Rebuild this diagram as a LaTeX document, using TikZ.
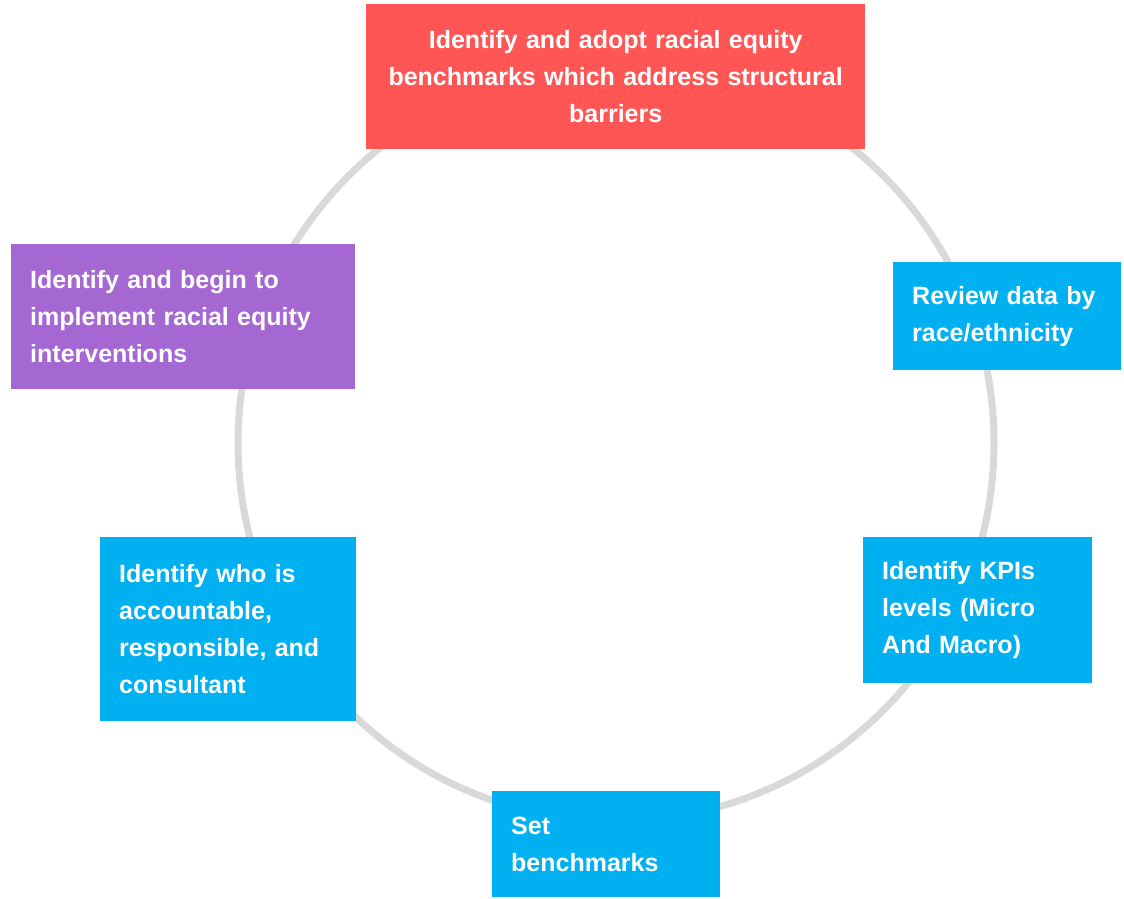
\documentclass[tikz,border=0pt]{standalone}
\usepackage{fontspec}
\setmainfont{Liberation Sans}
\usetikzlibrary{positioning}

\definecolor{redbox}{RGB}{255,85,85}
\definecolor{bluebox}{RGB}{0,176,240}
\definecolor{purplebox}{RGB}{165,103,210}
\definecolor{ringgray}{RGB}{217,217,217}

\begin{document}
\begin{tikzpicture}[x=1pt, y=-1pt,
    stepbox/.style={anchor=north west, inner xsep=19pt, inner ysep=0pt,
      text=white, align=left, font=\fontsize{25}{37}\selectfont\bfseries}]
 	\useasboundingbox (0,0) rectangle (1124,898);

 	% Ring
 	\draw[ringgray, line width=7pt] (616,443) circle [radius=378pt];

 	% Steps
 	\node[stepbox, fill=redbox, align=center, text width=461pt, minimum height=145pt] (benchmarks) at (366,4)
 	 	{Identify and adopt racial equity\\benchmarks which address structural\\barriers};
 	\node[stepbox, fill=bluebox, text width=190pt, minimum height=108pt] (review) at (893,262)
 	 	{Review data by\\race/ethnicity};
 	\node[stepbox, fill=bluebox, text width=191pt, minimum height=146pt] (kpis) at (863,537)
 	 	{Identify KPIs\\levels (Micro\\And Macro)};
 	\node[stepbox, fill=bluebox, text width=190pt, minimum height=106pt] (setbench) at (492,791)
 	 	{Set\\benchmarks};
 	\node[stepbox, fill=bluebox, text width=218pt, minimum height=184pt] (who) at (100,537)
 	 	{Identify who is\\accountable,\\responsible, and\\consultant};
 	\node[stepbox, fill=purplebox, text width=306pt, minimum height=145pt] (interventions) at (11,244)
 	 	{Identify and begin to\\implement racial equity\\interventions};
\end{tikzpicture}
\end{document}
